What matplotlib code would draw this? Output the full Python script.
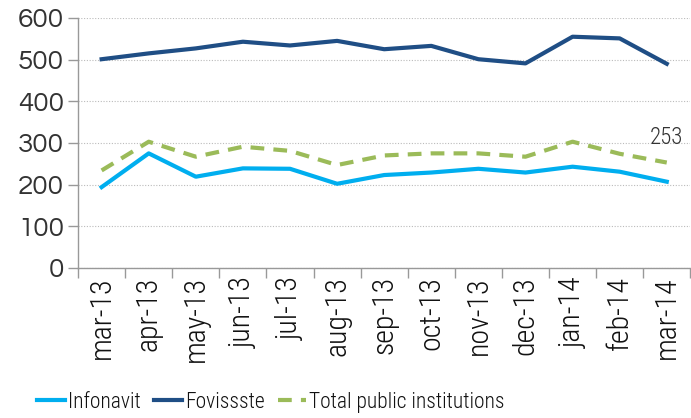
import matplotlib
matplotlib.use("Agg")
import matplotlib.pyplot as plt
from matplotlib import font_manager as fm
import numpy as np

months = ["mar-13", "apr-13", "may-13", "jun-13", "jul-13", "aug-13", "sep-13",
          "oct-13", "nov-13", "dec-13", "jan-14", "feb-14", "mar-14"]
infonavit = [194, 275, 219, 239, 238, 202, 223, 229, 238, 229, 243, 231, 207]
fovissste = [501, 515, 527, 543, 534, 545, 525, 533, 501, 491, 555, 551, 490]
total = [234, 303, 267, 291, 281, 247, 270, 275, 275, 267, 303, 274, 253]
yticks = [0, 100, 200, 300, 400, 500, 600]

names = {f.name for f in fm.fontManager.ttflist}
narrow = "Roboto Condensed" if "Roboto Condensed" in names else "DejaVu Sans"
geo = "Questrial" if "Questrial" in names else "DejaVu Sans"
nw = "light"

fig = plt.figure(figsize=(6.91, 4.18), dpi=100)
ax = fig.add_axes([0.113, 0.359, 0.886, 0.598])
x = np.arange(len(months))
ax.plot(x, infonavit, color="#00AEEF", lw=3, label="Infonavit")
ax.plot(x, fovissste, color="#1F4E85", lw=3, label="Fovissste")
ax.plot(x, total, color="#9BBB59", lw=3, ls=(0, (3.3, 2.2)), label="Total public institutions")

ax.set_xlim(-0.5, len(months) - 0.5)
ax.set_ylim(0, 600)
ax.set_yticks(yticks)
ax.set_yticklabels([str(v) for v in yticks], fontfamily=geo,
                   fontsize=20, color="#333333")
ax.set_xticks(x)
ax.set_xticklabels(months, rotation=90, fontfamily=narrow, fontweight=nw,
                   fontsize=21.5, color="#111111")
ax.set_xticks(np.arange(-0.5, len(months)), minor=True)
ax.tick_params(axis="x", which="major", length=0, pad=6)
ax.tick_params(axis="x", which="minor", length=7, color="#999999", width=1)
ax.tick_params(axis="y", length=7, color="#999999", width=1, pad=3)
for s in ["top", "right"]:
    ax.spines[s].set_visible(False)
for s in ["left", "bottom"]:
    ax.spines[s].set_color("#999999")
    ax.spines[s].set_linewidth(1)
ax.yaxis.grid(True, ls=(0, (1, 1.5)), color="#BBBBBB", lw=0.8)
ax.set_axisbelow(True)

ax.annotate(str(total[-1]), (x[-1], total[-1]), xytext=(0, 18), textcoords="offset points",
            ha="center", va="center", fontfamily=narrow, fontweight=nw,
            fontsize=16.5, color="#333333")

leg = fig.legend(loc="lower left", bbox_to_anchor=(0.035, -0.018), ncol=3, frameon=False,
                 prop={"family": narrow, "weight": nw, "size": 15.5}, handlelength=1.3,
                 columnspacing=0.6, handletextpad=0.15, borderaxespad=0.2)
plt.setp(leg.get_texts(), color="#111111")
fig.savefig("out.png", dpi=100)
